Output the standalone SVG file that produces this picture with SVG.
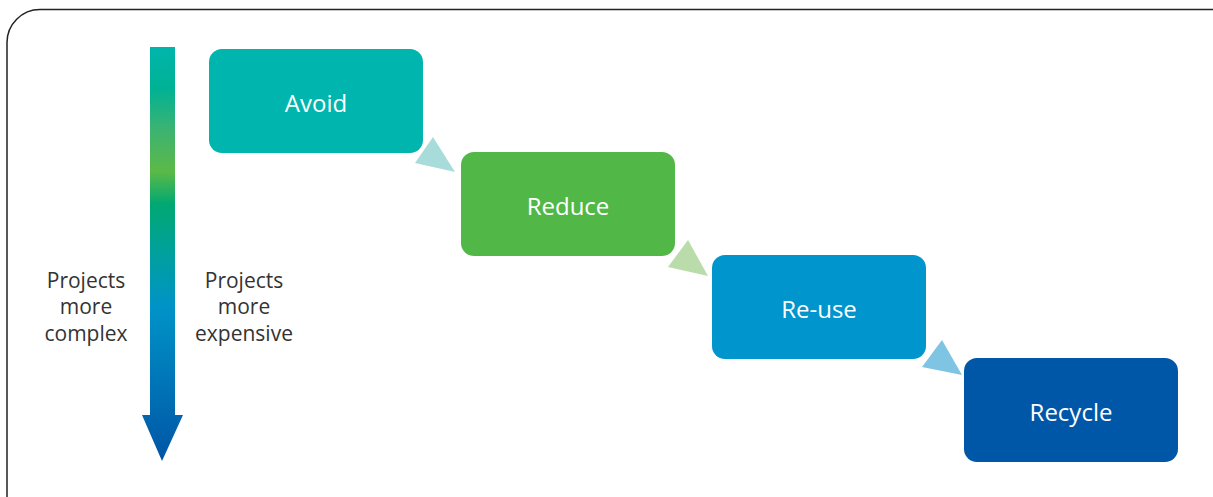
<svg xmlns="http://www.w3.org/2000/svg" width="1213" height="497" viewBox="0 0 1213 497">
<style>
.node rect{stroke:none}
.nt{font-family:"Open Sans","Noto Sans",sans-serif;font-size:24px;fill:#fff;text-anchor:middle}
.lt{font-family:"Open Sans","Noto Sans",sans-serif;font-size:21px;fill:#333;text-anchor:middle}
</style>
<defs>
<linearGradient id="g" x1="0" y1="47" x2="0" y2="461" gradientUnits="userSpaceOnUse">
<stop offset="0" stop-color="#00b5ad"/>
<stop offset="0.1" stop-color="#00b294"/>
<stop offset="0.2" stop-color="#3cb371"/>
<stop offset="0.3" stop-color="#5cb947"/>
<stop offset="0.38" stop-color="#00a872"/>
<stop offset="0.5" stop-color="#00a09e"/>
<stop offset="0.63" stop-color="#0093c8"/>
<stop offset="0.8" stop-color="#0077b8"/>
<stop offset="1" stop-color="#0055a5"/>
</linearGradient>
</defs>
<rect x="7" y="9.5" width="1238" height="520" rx="33" ry="33" fill="none" stroke="#222" stroke-width="1.5"/>
<g id="scale">
<path d="M150 47 H175 V415 H183 L162 461 L142 415 H150 Z" fill="url(#g)"/>
<text class="lt" x="86" y="288">Projects</text>
<text class="lt" x="86" y="314">more</text>
<text class="lt" x="86" y="341">complex</text>
<text class="lt" x="244" y="288">Projects</text>
<text class="lt" x="244" y="314">more</text>
<text class="lt" x="244" y="341">expensive</text>
</g>
<g id="connectors">
<polygon points="433,137 415,163 455,172" fill="#a8dcda"/>
<polygon points="688,240 668,267 708,276" fill="#b9dcaa"/>
<polygon points="942,340 922,367 962,375" fill="#80c4e4"/>
</g>
<g id="avoid" class="node"><rect x="209" y="49" width="214" height="104" rx="13" fill="#00b5ad"/><text class="nt" x="316" y="112">Avoid</text></g>
<g id="reduce" class="node"><rect x="461" y="152" width="214" height="104" rx="13" fill="#51b848"/><text class="nt" x="568" y="215">Reduce</text></g>
<g id="reuse" class="node"><rect x="712" y="255" width="214" height="104" rx="13" fill="#0095cc"/><text class="nt" x="819" y="318">Re-use</text></g>
<g id="recycle" class="node"><rect x="964" y="358" width="214" height="104" rx="13" fill="#0057a8"/><text class="nt" x="1071" y="421">Recycle</text></g>
</svg>
